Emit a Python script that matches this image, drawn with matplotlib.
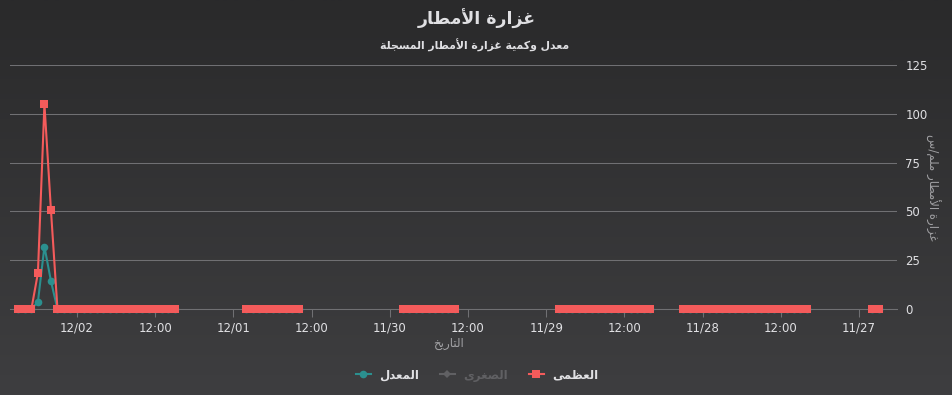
import numpy as np
import pandas as pd
import matplotlib
matplotlib.use("Agg")
import matplotlib.pyplot as plt
from matplotlib.lines import Line2D
from matplotlib.colors import LinearSegmentedColormap

# ---- data (hourly readings, gaps = no data) ----
seg_ranges = [
    ("2024-11-26 21:00", "2024-11-26 22:00"),
    ("2024-11-27 08:00", "2024-11-28 03:00"),
    ("2024-11-28 08:00", "2024-11-28 22:00"),
    ("2024-11-29 14:00", "2024-11-29 22:00"),
    ("2024-11-30 14:00", "2024-11-30 22:00"),
    ("2024-12-01 09:00", "2024-12-02 09:00"),
]
max_vals = [
    [0, 0],
    [0, 0, 0, 0, 0, 0, 0, 0, 0, 0, 0, 0, 0, 0, 0, 0, 0, 0, 0, 0],
    [0, 0, 0, 0, 0, 0, 0, 0, 0, 0, 0, 0, 0, 0, 0],
    [0, 0, 0, 0, 0, 0, 0, 0, 0],
    [0, 0, 0, 0, 0, 0, 0, 0, 0],
    [0, 0, 0, 0, 0, 0, 0, 0, 0, 0, 0, 0, 0, 0, 0, 0, 0, 0, 0,
     50.7, 105, 18.4, 0, 0, 0],
]
avg_vals = [
    [0, 0],
    [0, 0, 0, 0, 0, 0, 0, 0, 0, 0, 0, 0, 0, 0, 0, 0, 0, 0, 0, 0],
    [0, 0, 0, 0, 0, 0, 0, 0, 0, 0, 0, 0, 0, 0, 0],
    [0, 0, 0, 0, 0, 0, 0, 0, 0],
    [0, 0, 0, 0, 0, 0, 0, 0, 0],
    [0, 0, 0, 0, 0, 0, 0, 0, 0, 0, 0, 0, 0, 0, 0, 0, 0, 0, 0,
     14.3, 32, 3.6, 0, 0, 0],
]
tick_times = ["2024-12-02 00:00", "2024-12-01 12:00", "2024-12-01 00:00",
              "2024-11-30 12:00", "2024-11-30 00:00", "2024-11-29 12:00",
              "2024-11-29 00:00", "2024-11-28 12:00", "2024-11-28 00:00",
              "2024-11-27 12:00", "2024-11-27 00:00"]
tick_labels = ["12/02", "12:00", "12/01", "12:00", "11/30", "12:00",
               "11/29", "12:00", "11/28", "12:00", "11/27"]
y_ticks = [0, 25, 50, 75, 100, 125]

title = "غزارة الأمطار"
subtitle = "معدل وكمية غزارة الأمطار المسجلة"
x_title = "التاريخ"
y_title = "غزارة الأمطار ملم/س"
series_names = ["المعدل", "الصغرى", "العظمى"]

# ---- minimal arabic shaping (matplotlib has no shaping / bidi) ----
FORMS = {
    'ا': ('\ufe8d', '\ufe8e', None, None),
    'أ': ('\ufe83', '\ufe84', None, None),
    'ة': ('\ufe93', '\ufe94', None, None),
    'ت': ('\ufe95', '\ufe96', '\ufe97', '\ufe98'),
    'ج': ('\ufe9d', '\ufe9e', '\ufe9f', '\ufea0'),
    'خ': ('\ufea5', '\ufea6', '\ufea7', '\ufea8'),
    'د': ('\ufea9', '\ufeaa', None, None),
    'ر': ('\ufead', '\ufeae', None, None),
    'ز': ('\ufeaf', '\ufeb0', None, None),
    'س': ('\ufeb1', '\ufeb2', '\ufeb3', '\ufeb4'),
    'ص': ('\ufeb9', '\ufeba', '\ufebb', '\ufebc'),
    'ط': ('\ufec1', '\ufec2', '\ufec3', '\ufec4'),
    'ظ': ('\ufec5', '\ufec6', '\ufec7', '\ufec8'),
    'ع': ('\ufec9', '\ufeca', '\ufecb', '\ufecc'),
    'غ': ('\ufecd', '\ufece', '\ufecf', '\ufed0'),
    'ك': ('\ufed9', '\ufeda', '\ufedb', '\ufedc'),
    'ل': ('\ufedd', '\ufede', '\ufedf', '\ufee0'),
    'م': ('\ufee1', '\ufee2', '\ufee3', '\ufee4'),
    'و': ('\ufeed', '\ufeee', None, None),
    'ى': ('\ufeef', '\ufef0', None, None),
    'ي': ('\ufef1', '\ufef2', '\ufef3', '\ufef4'),
}
LAM_ALEF = {'أ': ('\ufef7', '\ufef8'), 'ا': ('\ufefb', '\ufefc')}


def joins_fwd(c):
    return c in FORMS and FORMS[c][2] is not None


def ar(s):
    res = []
    i = 0
    n = len(s)
    while i < n:
        c = s[i]
        prev = s[i - 1] if i > 0 else ''
        nxt = s[i + 1] if i + 1 < n else ''
        if c not in FORMS:
            res.append(c)
            i += 1
            continue
        p = joins_fwd(prev)
        if c == 'ل' and nxt in LAM_ALEF:
            res.append(LAM_ALEF[nxt][1 if p else 0])
            i += 2
            continue
        q = joins_fwd(c) and nxt in FORMS
        f = FORMS[c]
        if p and q:
            res.append(f[3])
        elif p:
            res.append(f[1])
        elif q:
            res.append(f[2])
        else:
            res.append(f[0])
        i += 1
    return ''.join(reversed(res))


def build(vals):
    xs, ys = [], []
    for (a, b), v in zip(seg_ranges, vals):
        t = pd.date_range(a, b, freq="h")
        xs.extend(list(t))
        ys.extend(v)
        xs.append(t[-1] + pd.Timedelta(minutes=30))
        ys.append(np.nan)
    return pd.to_datetime(xs), np.array(ys, dtype=float)


TEXT = "#E0E0E3"
GRID = "#707073"
RED = "#f45b5b"
TEAL = "#2b908f"
HIDDEN = "#606063"
AXT = "#A0A0A3"
plt.rcParams['font.family'] = ['DejaVu Sans']

W, H = 953, 395
fig = plt.figure(figsize=(W / 100, H / 100), dpi=100)

bg = fig.add_axes([0, 0, 1, 1], zorder=-10)
cmap = LinearSegmentedColormap.from_list("bg", ["#2a2a2b", "#3e3e40"])
bg.imshow(np.linspace(0, 1, 256).reshape(-1, 1), aspect="auto", cmap=cmap,
          extent=[0, 1, 0, 1])
bg.set_axis_off()

L, R, T, B = 10, 897, 65, 309
ax = fig.add_axes([L / W, 1 - B / H, (R - L) / W, (B - T) / H])
ax.set_facecolor("none")

xm, ym = build(max_vals)
xa, ya = build(avg_vals)
ax.plot(xa, ya, color=TEAL, lw=1.5, marker="o", ms=5.5, mew=0, zorder=3,
        clip_on=False)
ax.plot(xm, ym, color=RED, lw=1.5, marker="s", ms=6.4, mew=0, zorder=4,
        clip_on=False)

ax.set_ylim(0, 125)
ax.set_yticks(y_ticks)
ax.set_xlim(pd.Timestamp("2024-12-02 10:17"), pd.Timestamp("2024-11-26 18:10"))
ax.set_xticks(pd.to_datetime(tick_times))
ax.set_xticklabels(tick_labels)

ax.yaxis.tick_right()
ax.grid(axis="y", color=GRID, lw=0.75)
ax.set_axisbelow(True)
for s in ["top", "left", "right"]:
    ax.spines[s].set_visible(False)
ax.spines["bottom"].set_color(GRID)
ax.spines["bottom"].set_linewidth(0.75)
ax.tick_params(axis="x", colors=GRID, labelcolor=TEXT, labelsize=8.5,
               length=6, width=0.75, pad=3)
ax.tick_params(axis="y", length=0, labelcolor=TEXT, labelsize=8.5, pad=6)

fig.text(477 / W, 1 - 19 / H, ar(title), ha="center", va="center",
         color=TEXT, fontsize=12.5, fontweight="bold")
fig.text(475 / W, 1 - 45 / H, ar(subtitle), ha="center", va="center",
         color=TEXT, fontsize=7.8, fontweight="bold")
fig.text(449 / W, 1 - 343 / H, ar(x_title), ha="center", va="center",
         color=AXT, fontsize=8.5)
fig.text(933 / W, 1 - 187 / H, ar(y_title), ha="center", va="center",
         color=AXT, fontsize=8.5, rotation=270)

handles = [
    Line2D([], [], color=TEAL, lw=1.5, marker="o", ms=5.5, mew=0),
    Line2D([], [], color=HIDDEN, lw=1.5, marker="D", ms=4.5, mew=0),
    Line2D([], [], color=RED, lw=1.5, marker="s", ms=5.8, mew=0),
]
leg = fig.legend(handles, [ar(n) for n in series_names], loc="center",
                 bbox_to_anchor=(477 / W, 1 - 375 / H), ncol=3, frameon=False,
                 handlelength=1.25, handletextpad=0.7, columnspacing=1.8,
                 prop={"size": 8.5, "weight": "bold"})
for txt, c in zip(leg.get_texts(), [TEXT, HIDDEN, TEXT]):
    txt.set_color(c)

fig.savefig("out.png", dpi=100)
